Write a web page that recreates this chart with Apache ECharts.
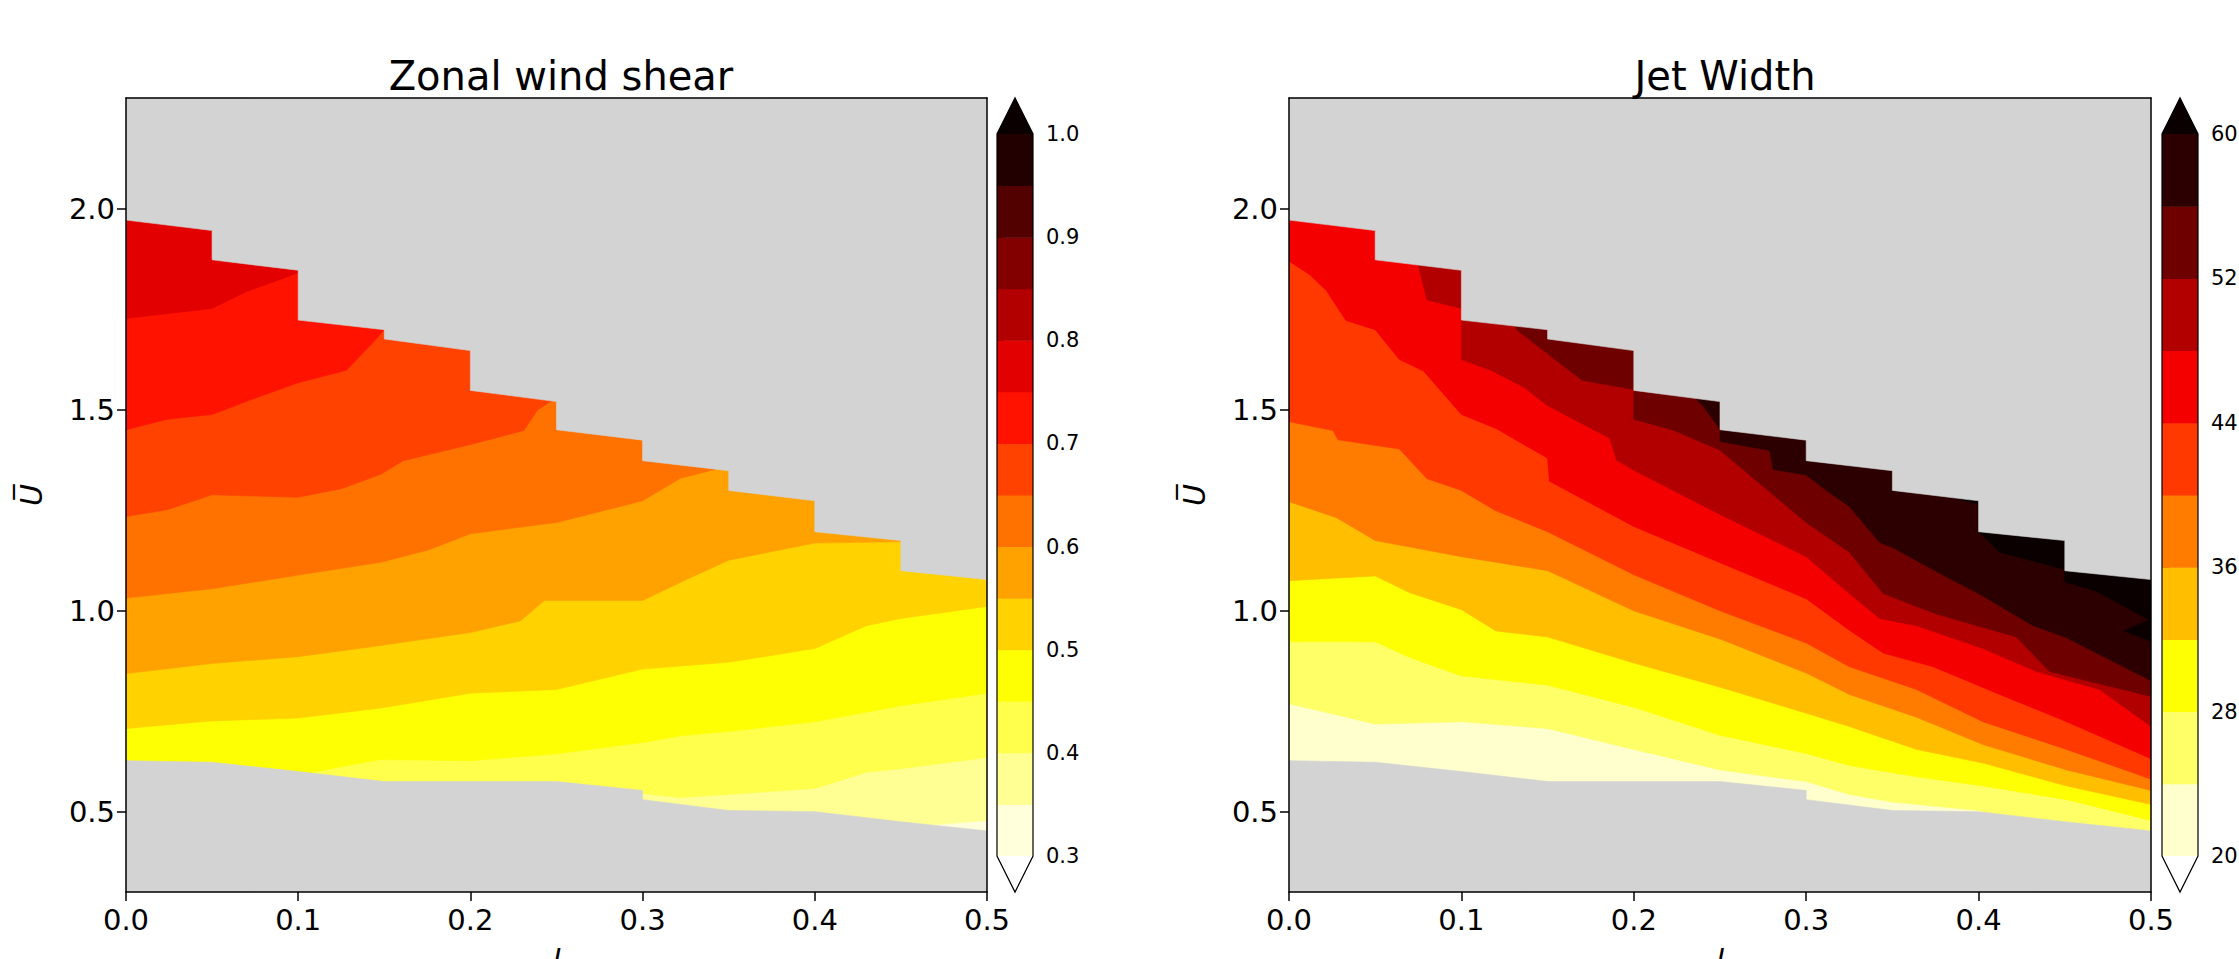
<!DOCTYPE html>
<html>
<head>
<meta charset="utf-8">
<script src="https://cdn.jsdelivr.net/npm/echarts@6/dist/echarts.min.js"></script>
<style>
  html, body { margin: 0; padding: 0; background: #fff; }
  #chart { width: 2239px; height: 959px; }
</style>
</head>
<body>
<div id="chart"></div>
<script>
// ---- values ----
const lTicks = [0.0, 0.1, 0.2, 0.3, 0.4, 0.5];
const uTicks = [0.5, 1.0, 1.5, 2.0];

const shearLevels = [0.3, 0.35, 0.4, 0.45, 0.5, 0.55, 0.6, 0.65, 0.7, 0.75, 0.8, 0.85, 0.9, 0.95, 1.0];
const shearTicks = [0.3, 0.4, 0.5, 0.6, 0.7, 0.8, 0.9, 1.0];
const jetLevels = [20, 24, 28, 32, 36, 40, 44, 48, 52, 56, 60];
const jetTicks = [20, 28, 36, 44, 52, 60];

// edges of the (l, U) region that has runs, shared by both panels
const topEdge = [[0, 1.973], [0.05, 1.947], [0.05, 1.874], [0.1, 1.848], [0.1, 1.724], [0.15, 1.700], [0.15, 1.677],
  [0.2, 1.648], [0.2, 1.549], [0.25, 1.521], [0.25, 1.451], [0.3, 1.425], [0.3, 1.374], [0.35, 1.349], [0.35, 1.300],
  [0.4, 1.274], [0.4, 1.197], [0.45, 1.175], [0.45, 1.100], [0.5, 1.078]];
const bottomEdge = [[0, 0.627], [0.05, 0.623], [0.1, 0.600], [0.15, 0.575], [0.2, 0.575], [0.25, 0.575], [0.3, 0.553],
  [0.3, 0.530], [0.35, 0.503], [0.4, 0.500], [0.45, 0.475], [0.5, 0.452]];

// zonal wind shear: U of each contour level along l
const shear035 = [[0, 0.30], [0.40, 0.42], [0.45, 0.455], [0.465, 0.466], [0.5, 0.478]];
const shear040 = [[0, 0.40], [0.28, 0.50], [0.3, 0.545], [0.322, 0.535], [0.35, 0.543], [0.4, 0.558], [0.43, 0.598], [0.45, 0.607], [0.5, 0.635]];
const shear045 = [[0, 0.50], [0.09, 0.56], [0.105, 0.595], [0.125, 0.612], [0.148, 0.63], [0.2, 0.627], [0.25, 0.644], [0.3, 0.672], [0.322, 0.689], [0.35, 0.70], [0.4, 0.724], [0.45, 0.764], [0.5, 0.795]];
const shear050 = [[0, 0.707], [0.05, 0.726], [0.1, 0.733], [0.148, 0.758], [0.2, 0.795], [0.25, 0.804], [0.3, 0.855], [0.35, 0.872], [0.4, 0.906], [0.43, 0.963], [0.45, 0.981], [0.5, 1.011]];
const shear055 = [[0, 0.844], [0.05, 0.869], [0.1, 0.886], [0.148, 0.914], [0.2, 0.946], [0.229, 0.975], [0.243, 1.026], [0.3, 1.026], [0.328, 1.083], [0.35, 1.126], [0.4, 1.169], [0.45, 1.172], [0.455, 1.3], [0.5, 1.3]];
const shear060 = [[0, 1.032], [0.05, 1.055], [0.1, 1.089], [0.148, 1.121], [0.176, 1.152], [0.2, 1.192], [0.25, 1.220], [0.3, 1.274], [0.322, 1.33], [0.343, 1.353], [0.35, 1.40], [0.5, 1.5]];
const shear065 = [[0, 1.235], [0.024, 1.252], [0.05, 1.289], [0.1, 1.283], [0.125, 1.304], [0.148, 1.340], [0.161, 1.374], [0.2, 1.414], [0.231, 1.449], [0.239, 1.50], [0.245, 1.517], [0.25, 1.53], [0.26, 1.6], [0.5, 1.7]];
const shear070 = [[0, 1.451], [0.024, 1.477], [0.05, 1.489], [0.074, 1.528], [0.1, 1.568], [0.128, 1.599], [0.144, 1.671], [0.15, 1.70], [0.155, 1.75], [0.5, 1.9]];
const shear075 = [[0, 1.728], [0.05, 1.753], [0.07, 1.795], [0.09, 1.826], [0.1, 1.842], [0.1, 1.9], [0.5, 2.0]];

// jet width: U of each contour level along l
const jet24 = [[0, 0.769], [0.05, 0.718], [0.1, 0.724], [0.15, 0.707], [0.2, 0.655], [0.25, 0.604], [0.3, 0.575], [0.325, 0.543], [0.35, 0.524], [0.4, 0.503], [0.42, 0.47], [0.5, 0.40]];
const jet28 = [[0, 0.923], [0.05, 0.923], [0.07, 0.884], [0.1, 0.838], [0.15, 0.815], [0.2, 0.76], [0.25, 0.69], [0.3, 0.645], [0.325, 0.615], [0.364, 0.587], [0.4025, 0.564], [0.451, 0.530], [0.5, 0.478]];
const jet32 = [[0, 1.075], [0.05, 1.087], [0.07, 1.045], [0.1, 1.003], [0.12, 0.95], [0.15, 0.935], [0.2, 0.87], [0.25, 0.81], [0.3, 0.745], [0.325, 0.712], [0.364, 0.655], [0.4025, 0.621], [0.451, 0.564], [0.5, 0.518]];
const jet36 = [[0, 1.272], [0.0275, 1.232], [0.05, 1.175], [0.1, 1.135], [0.15, 1.10], [0.2, 1.00], [0.25, 0.93], [0.3, 0.845], [0.325, 0.792], [0.364, 0.735], [0.4025, 0.667], [0.451, 0.604], [0.5, 0.553]];
const jet40 = [[0, 1.471], [0.0255, 1.449], [0.0284, 1.426], [0.064, 1.403], [0.08, 1.329], [0.1, 1.30], [0.12, 1.249], [0.15, 1.197], [0.2, 1.09], [0.25, 1.00], [0.3, 0.92], [0.325, 0.861], [0.364, 0.804], [0.4025, 0.724], [0.451, 0.655], [0.5, 0.581]];
const jet44 = [[0, 1.871], [0.012, 1.837], [0.0217, 1.797], [0.033, 1.723], [0.05, 1.70], [0.064, 1.626], [0.078, 1.597], [0.1, 1.489], [0.12, 1.454], [0.15, 1.38], [0.151, 1.323], [0.2, 1.21], [0.25, 1.12], [0.3, 1.03], [0.325, 0.952], [0.3446, 0.895], [0.3736, 0.861], [0.4122, 0.792], [0.451, 0.724], [0.5, 0.632]];
const jet48 = [[0, 2.1], [0.05, 2.0], [0.07, 1.92], [0.0754, 1.853], [0.08, 1.774], [0.1, 1.753], [0.1, 1.626], [0.118, 1.597], [0.136, 1.557], [0.15, 1.511], [0.186, 1.43], [0.19, 1.375], [0.2, 1.35], [0.25, 1.24], [0.3, 1.135], [0.325, 1.043], [0.3426, 0.981], [0.3639, 0.963], [0.4025, 0.906], [0.4335, 0.849], [0.4702, 0.804], [0.5, 0.712]];
const jet52 = [[0, 2.2], [0.1, 2.0], [0.125, 1.76], [0.132, 1.70], [0.15, 1.64], [0.17, 1.574], [0.2, 1.551], [0.2, 1.477], [0.223, 1.45], [0.25, 1.40], [0.3, 1.22], [0.325, 1.146], [0.3446, 1.043], [0.3755, 0.992], [0.4219, 0.935], [0.4412, 0.849], [0.5, 0.787]];
const jet56 = [[0, 2.3], [0.2, 1.7], [0.23, 1.56], [0.2363, 1.527], [0.2402, 1.51], [0.25, 1.452], [0.25, 1.422], [0.2788, 1.399], [0.2808, 1.352], [0.3, 1.338], [0.3117, 1.30], [0.325, 1.26], [0.3426, 1.17], [0.35, 1.158], [0.3832, 1.08], [0.4, 1.043], [0.4316, 0.963], [0.45, 0.935], [0.5, 0.826]];
const jet60 = [[0, 2.4], [0.35, 1.5], [0.38, 1.30], [0.3832, 1.285], [0.4, 1.265], [0.4, 1.197], [0.4122, 1.146], [0.45, 1.103], [0.45, 1.072], [0.4683, 1.049], [0.5, 0.975]];
const jetNotch = [[0.5, 0.981], [0.4838, 0.950], [0.5, 0.924]];

// ---- drawing ----
const GREY = '#d3d3d3';
const FONT = 'DejaVu Sans';

// matplotlib "hot_r"
function hotR(t) {
  const x = 1 - Math.min(1, Math.max(0, t));
  const r = x < 0.365079 ? 0.0416 + 0.9584 * x / 0.365079 : 1;
  const g = x < 0.365079 ? 0 : (x < 0.746032 ? (x - 0.365079) / 0.380953 : 1);
  const b = x < 0.746032 ? 0 : (x - 0.746032) / 0.253968;
  return 'rgb(' + Math.round(r * 255) + ',' + Math.round(g * 255) + ',' + Math.round(b * 255) + ')';
}
function bandColor(levels, i) {
  const lo = levels[0], hi = levels[levels.length - 1];
  if (i >= levels.length - 1) return hotR(1);
  return hotR(((levels[i] + levels[i + 1]) / 2 - lo) / (hi - lo));
}

// each contour level fills everything above it, painted bottom-up
function fillSeries(ax, levels, contours) {
  const layers = [null].concat(contours);
  return {
    type: 'custom', xAxisIndex: ax, yAxisIndex: ax, clip: true, silent: true, z: 2,
    data: layers.map(() => [0.25, 1]),
    renderItem: function (params, api) {
      const c = layers[params.dataIndex] || [[0, -1], [0.5, -1]];
      const pts = c.map(p => api.coord(p));
      pts.push(api.coord([0.5, 3]), api.coord([0, 3]));
      const col = bandColor(levels, params.dataIndex);
      return { type: 'polygon', shape: { points: pts }, style: { fill: col, stroke: col, lineWidth: 0.6 } };
    }
  };
}

function notchSeries(ax, pts) {
  return {
    type: 'custom', xAxisIndex: ax, yAxisIndex: ax, clip: true, silent: true, z: 3,
    data: [[0.5, 1]],
    renderItem: function (params, api) {
      return { type: 'polygon', shape: { points: pts.map(p => api.coord(p)) }, style: { fill: hotR(1) } };
    }
  };
}

function maskSeries(ax) {
  const masks = [
    topEdge.concat([[0.5, 3], [0, 3]]),
    bottomEdge.concat([[0.5, 0], [0, 0]])
  ];
  return {
    type: 'custom', xAxisIndex: ax, yAxisIndex: ax, clip: true, silent: true, z: 4,
    data: masks.map(() => [0.25, 1]),
    renderItem: function (params, api) {
      const pts = masks[params.dataIndex].map(p => api.coord(p));
      return { type: 'polygon', shape: { points: pts }, style: { fill: GREY, stroke: GREY, lineWidth: 0.6 } };
    }
  };
}

function colorbarSeries(ax, levels) {
  const lo = levels[0], hi = levels[levels.length - 1], ext = (hi - lo) * 0.05;
  return {
    type: 'custom', xAxisIndex: ax, yAxisIndex: ax, clip: false, silent: true, z: 2,
    data: [[0.5, lo]],
    renderItem: function (params, api) {
      const kids = [];
      for (let i = 0; i < levels.length - 1; i++) {
        const a = api.coord([0, levels[i + 1]]), b = api.coord([1, levels[i]]);
        kids.push({ type: 'rect', shape: { x: a[0], y: a[1], width: b[0] - a[0], height: b[1] - a[1] + 0.5 },
          style: { fill: bandColor(levels, i) } });
      }
      const tri = (base, tip, col) => ({ type: 'polygon',
        shape: { points: [api.coord([0, base]), api.coord([1, base]), api.coord([0.5, tip])] }, style: { fill: col } });
      kids.push(tri(hi, hi + ext, hotR(1)));
      kids.push(tri(lo, lo - ext, hotR(0)));
      kids.push({ type: 'polygon',
        shape: { points: [[0, lo], [0, hi], [0.5, hi + ext], [1, hi], [1, lo], [0.5, lo - ext]].map(p => api.coord(p)) },
        style: { fill: 'none', stroke: '#000', lineWidth: 1.2 } });
      return { type: 'group', children: kids };
    }
  };
}

const tickFont = { fontFamily: FONT, fontSize: 29, color: '#000' };
const lineStyle = { color: '#000', width: 1.5 };

function mainAxes(grid) {
  const xs = [
    { type: 'value', gridIndex: grid, min: 0, max: 0.5, z: 10,
      axisLine: { show: true, onZero: false, lineStyle },
      axisTick: { show: true, length: 9, customValues: lTicks, lineStyle },
      axisLabel: Object.assign({ margin: 13, customValues: lTicks, formatter: v => v.toFixed(1) }, tickFont),
      splitLine: { show: false },
      name: 'l', nameLocation: 'middle', nameGap: 53,
      nameTextStyle: { fontFamily: FONT, fontSize: 30, fontStyle: 'italic', color: '#000' } },
    { type: 'value', gridIndex: grid, min: 0, max: 0.5, position: 'top', z: 10,
      axisLine: { show: true, onZero: false, lineStyle }, axisTick: { show: false }, axisLabel: { show: false }, splitLine: { show: false } }
  ];
  const ys = [
    { type: 'value', gridIndex: grid, min: 0.3, max: 2.277, z: 10,
      axisLine: { show: true, onZero: false, lineStyle },
      axisTick: { show: true, length: 9, customValues: uTicks, lineStyle },
      axisLabel: Object.assign({ margin: 11, customValues: uTicks, formatter: v => v.toFixed(1) }, tickFont),
      splitLine: { show: false },
      name: 'U\u0305', nameLocation: 'middle', nameGap: 80, nameRotate: 90,
      nameTextStyle: { fontFamily: FONT, fontSize: 30, fontStyle: 'italic', color: '#000' } },
    { type: 'value', gridIndex: grid, min: 0.3, max: 2.277, position: 'right', z: 10,
      axisLine: { show: true, onZero: false, lineStyle }, axisTick: { show: false }, axisLabel: { show: false }, splitLine: { show: false } }
  ];
  return { xs, ys };
}

function cbAxes(grid, levels, ticks, fmt) {
  return {
    x: { type: 'value', gridIndex: grid, min: 0, max: 1, show: false },
    y: { type: 'value', gridIndex: grid, min: levels[0], max: levels[levels.length - 1], position: 'right',
      axisLine: { show: false }, splitLine: { show: false },
      axisTick: { show: true, length: 7, customValues: ticks, lineStyle: { color: '#000', width: 1.2 } },
      axisLabel: { margin: 13, customValues: ticks, formatter: fmt, fontFamily: FONT, fontSize: 21, color: '#000' } }
  };
}

const leftMain = mainAxes(0);
const leftCb = cbAxes(1, shearLevels, shearTicks, v => v.toFixed(1));
const rightMain = mainAxes(2);
const rightCb = cbAxes(3, jetLevels, jetTicks, v => String(Math.round(v)));

const chart = echarts.init(document.getElementById('chart'), null, { renderer: 'svg' });
chart.setOption({
  animation: false,
  backgroundColor: '#fff',
  title: [
    { text: 'Zonal wind shear', left: 556, top: 51, textAlign: 'center',
      textStyle: { fontFamily: FONT, fontSize: 40, fontWeight: 'normal', color: '#000' } },
    { text: 'Jet Width', left: 1720, top: 51, textAlign: 'center',
      textStyle: { fontFamily: FONT, fontSize: 40, fontWeight: 'normal', color: '#000' } }
  ],
  grid: [
    { left: 126, top: 98, width: 861, height: 794, outerBoundsMode: 'none', backgroundColor: GREY, show: true, borderWidth: 0 },
    { left: 997, top: 134, width: 36, height: 722, outerBoundsMode: 'none' },
    { left: 1289, top: 98, width: 862, height: 794, outerBoundsMode: 'none', backgroundColor: GREY, show: true, borderWidth: 0 },
    { left: 2162, top: 134, width: 36, height: 722, outerBoundsMode: 'none' }
  ],
  xAxis: [leftMain.xs[0], leftMain.xs[1], leftCb.x, rightMain.xs[0], rightMain.xs[1], rightCb.x],
  yAxis: [leftMain.ys[0], leftMain.ys[1], leftCb.y, rightMain.ys[0], rightMain.ys[1], rightCb.y],
  series: [
    fillSeries(0, shearLevels, [shear035, shear040, shear045, shear050, shear055, shear060, shear065, shear070, shear075]),
    maskSeries(0),
    colorbarSeries(2, shearLevels),
    fillSeries(3, jetLevels, [jet24, jet28, jet32, jet36, jet40, jet44, jet48, jet52, jet56, jet60]),
    notchSeries(3, jetNotch),
    maskSeries(3),
    colorbarSeries(5, jetLevels)
  ]
});
</script>
</body>
</html>
